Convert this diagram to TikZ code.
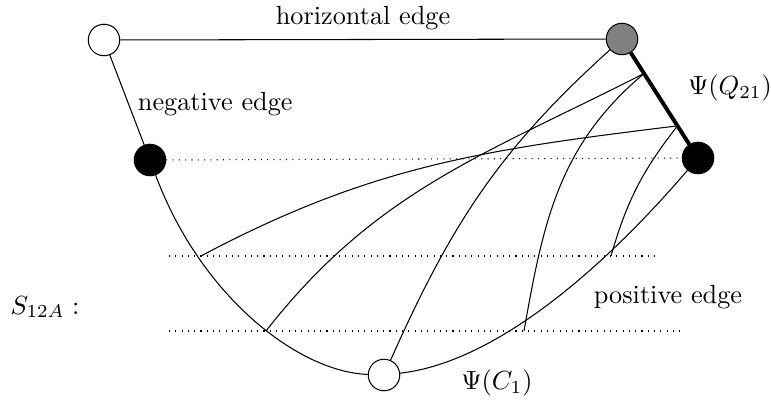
\documentclass[tikz,border=0pt]{standalone}
\usepackage{amsmath,amssymb}
\usetikzlibrary{positioning, calc}

\begin{document}
\begin{tikzpicture}[
  x=0.381pt, y=0.381pt, line width=0.4pt,
  vazio/.style={circle, draw, fill=white, minimum size=12pt, inner sep=0pt},
  cheio/.style={circle, draw, fill=black, minimum size=12pt, inner sep=0pt},
  cinza/.style={circle, draw, fill=gray, minimum size=12pt, inner sep=0pt},
  lado/.style={line width=1.5pt},
]
  \useasboundingbox (0,0) rectangle (771,400);

  \node[vazio] (wtl) at (104,360) {};
  \node[cinza] (gtr) at (622,361) {};
  \node[cheio] (bl) at (150,240) {};
  \node[cheio] (br) at (698,242) {};
  \node[vazio] (wb) at (384,25) {};

  \coordinate (q1) at ($(gtr)!0.29!(br)$);
  \coordinate (q2) at ($(gtr)!0.73!(br)$);
  \coordinate (p1) at (201,144); \coordinate (p2) at (266,69);
  \coordinate (p3) at (524,69);  \coordinate (p4) at (611,144);
  \coordinate (u1) at (169,144); \coordinate (u2) at (659,144);
  \coordinate (v1) at (169,69);  \coordinate (v2) at (683,69);

  \node (lq) at (730,312) {$\Psi(Q_{21})$};
  \node (lc) at (497,17) {$\Psi(C_1)$};
  \node (lp) at (668,103) {positive edge};
  \node (ls) at (45,93) {$S_{12A}:$};

  \draw (wtl) -- node[above] {horizontal edge} (gtr);
  \draw (wtl) -- node[pos=0.55, right] {negative edge} (bl);
  \draw[lado] (gtr) -- (br);
  \draw (bl) .. controls (201,103) and (299,28) .. (wb);
  \draw (wb) .. controls (499,38) and (609,138) .. (br);
  \draw[dotted] (bl) -- (br); \draw[dotted] (u1) -- (u2); \draw[dotted] (v1) -- (v2);
  \draw (gtr) to[out=-138,in=66] (wb);
  \draw (q1) to[out=-153,in=52] (p2);
  \draw (q1) to[out=-140,in=80] (p3);
  \draw (q2) to[out=-173,in=28] (p1);
  \draw (q2) to[out=-128,in=74] (p4);
\end{tikzpicture}
\end{document}
